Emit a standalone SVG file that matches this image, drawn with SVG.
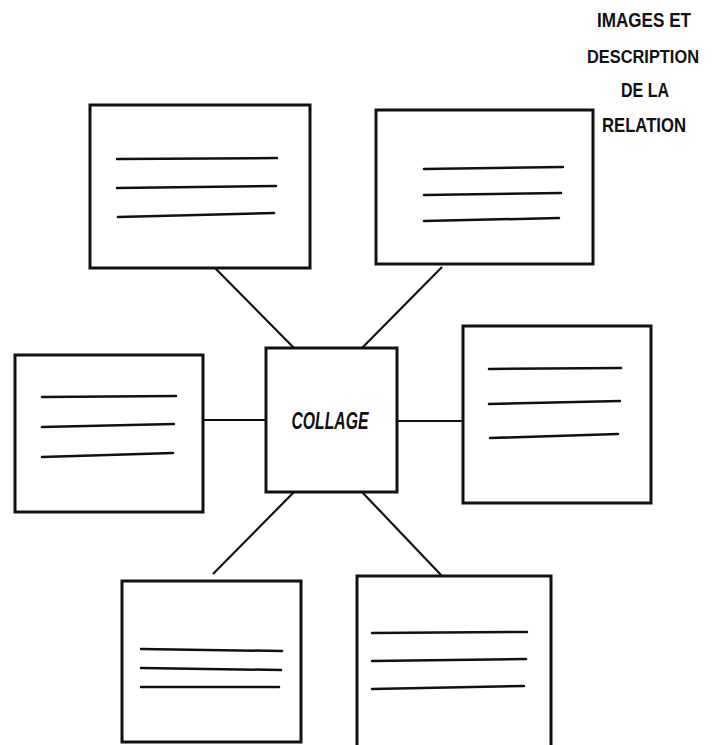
<svg xmlns="http://www.w3.org/2000/svg" width="721" height="745" viewBox="0 0 721 745">
<style>
.box{fill:#fff;stroke:#111;stroke-width:3}
.ln{stroke:#111;stroke-width:2.5;stroke-linecap:round;fill:none}
.con{stroke:#111;stroke-width:2.2;fill:none}
.title{font-family:"Liberation Sans",Arial,sans-serif;font-weight:bold;font-size:21px;fill:#111;text-anchor:middle}
.lab{font-family:"Liberation Sans",Arial,sans-serif;font-weight:bold;font-style:italic;font-size:23px;fill:#111;text-anchor:middle}
</style>
<rect width="721" height="745" fill="#fff"/>
<g id="connectors">
<line class="con" x1="215" y1="268" x2="294" y2="348"/>
<line class="con" x1="442" y1="267" x2="362" y2="348"/>
<line class="con" x1="203" y1="420" x2="266" y2="420"/>
<line class="con" x1="397" y1="421" x2="463" y2="421"/>
<line class="con" x1="294" y1="492" x2="213" y2="574"/>
<line class="con" x1="362" y1="492" x2="442" y2="576"/>
</g>
<g id="title">
<text class="title" x="644" y="27" textLength="94" lengthAdjust="spacingAndGlyphs">IMAGES ET</text>
<text class="title" x="643" y="63" style="font-size:19px" textLength="112" lengthAdjust="spacingAndGlyphs">DESCRIPTION</text>
<text class="title" x="645" y="97" textLength="48" lengthAdjust="spacingAndGlyphs">DE LA</text>
<text class="title" x="644" y="132" textLength="84" lengthAdjust="spacingAndGlyphs">RELATION</text>
</g>
<g id="node-center">
<rect class="box" x="266" y="348" width="131" height="144"/>
<text class="lab" x="330" y="429" textLength="77" lengthAdjust="spacingAndGlyphs">COLLAGE</text>
</g>
<g id="node-top-left">
<rect class="box" x="90" y="105" width="220" height="163"/>
<path class="ln" d="M117 159 L277 158 M117 188 L276 186 M118 217 L274 213"/>
</g>
<g id="node-top-right">
<rect class="box" x="376" y="110" width="217" height="154"/>
<path class="ln" d="M424 169 L563 167 M424 195 L561 193 M424 221 L559 218"/>
</g>
<g id="node-left">
<rect class="box" x="15" y="355" width="188" height="157"/>
<path class="ln" d="M42 397 L176 396 M42 427 L174 424 M42 457 L173 453"/>
</g>
<g id="node-right">
<rect class="box" x="463" y="326" width="188" height="177"/>
<path class="ln" d="M489 369 L621 368 M489 404 L620 401 M490 438 L618 434"/>
</g>
<g id="node-bottom-left">
<rect class="box" x="122" y="581" width="179" height="161"/>
<path class="ln" d="M141 649 L282 651 M141 668 L281 670 M141 687 L279 687"/>
</g>
<g id="node-bottom-right">
<rect class="box" x="357" y="576" width="194" height="175"/>
<path class="ln" d="M372 633 L527 632 M372 661 L526 659 M372 689 L524 686"/>
</g>
</svg>
